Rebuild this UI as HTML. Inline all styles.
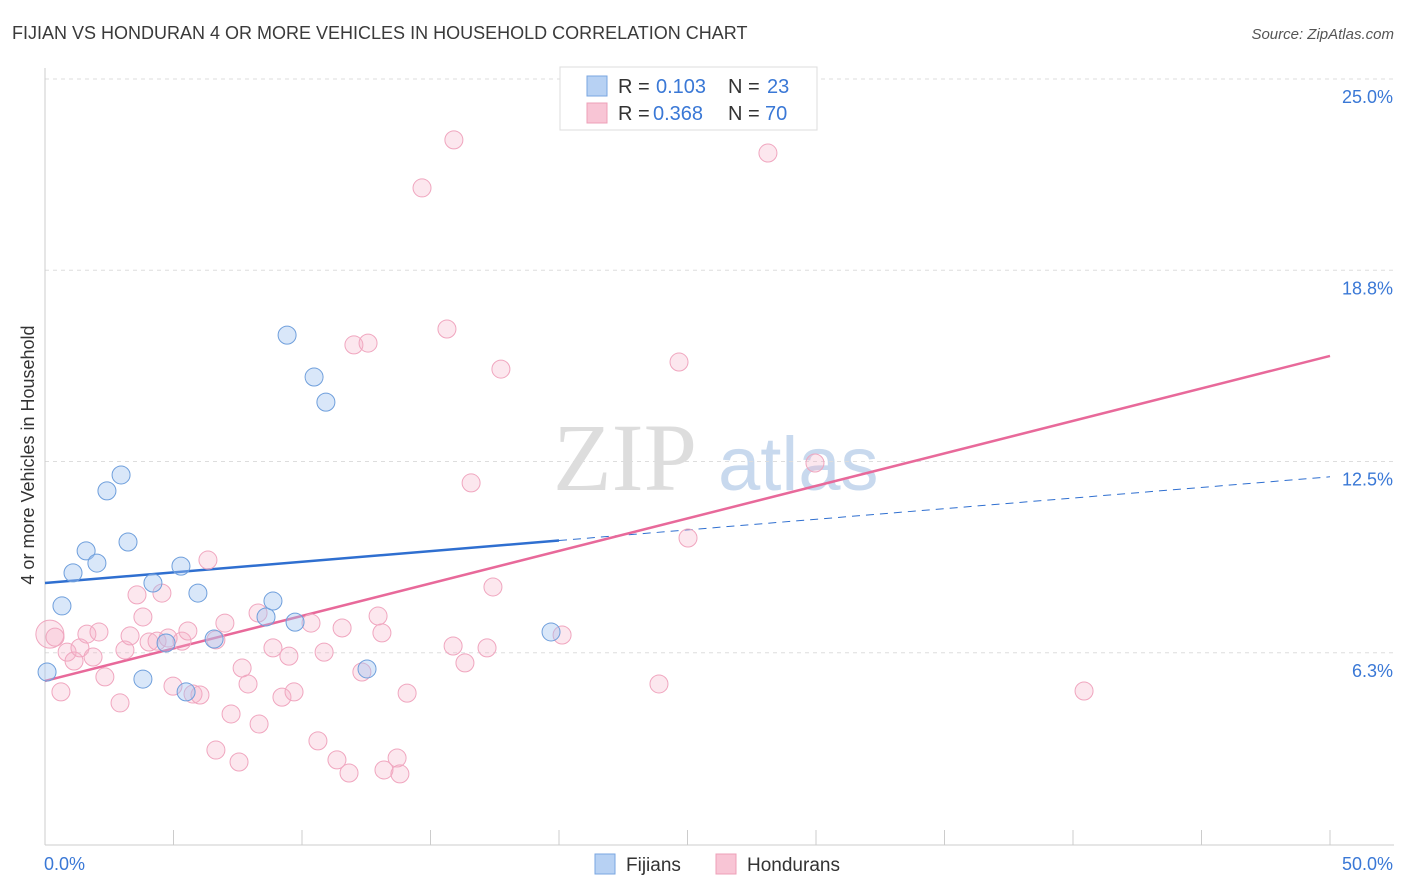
<!DOCTYPE html>
<html><head><meta charset="utf-8">
<style>
body{margin:0;background:#fff;font-family:"Liberation Sans",sans-serif;}
#wrap{position:relative;width:1406px;height:892px;overflow:hidden;}
</style></head>
<body>
<div id="wrap">
<svg id="chart" width="1406" height="892" xmlns="http://www.w3.org/2000/svg">
<text x="12" y="39" font-size="18" fill="#3a3a3a">FIJIAN VS HONDURAN 4 OR MORE VEHICLES IN HOUSEHOLD CORRELATION CHART</text>
<text x="1394" y="39" font-size="15" fill="#555" font-style="italic" text-anchor="end">Source: ZipAtlas.com</text>
<text x="0" y="0" transform="translate(34,455) rotate(-90)" font-size="18" fill="#333" text-anchor="middle">4 or more Vehicles in Household</text>
<g>
<text x="553" y="490" font-size="96" font-family="Liberation Serif" fill="#ddd">ZIP</text>
<text x="718" y="490" font-size="76" fill="#c8d9ee">atlas</text>
</g>
<g id="grid"></g><g id="axes"></g><g id="lines"></g><g id="points"></g>
<g>
<rect x="560" y="67" width="257" height="63" fill="#fff" stroke="#ddd"/>
<rect x="587" y="76" width="20" height="20" fill="#b7d1f3" stroke="#7aa6e0"/>
<rect x="587" y="103" width="20" height="20" fill="#f8c5d5" stroke="#eea0b8"/>
<g font-size="20" fill="#333">
<text x="618" y="93">R =</text>
<text x="656" y="93" fill="#3a78d6">0.103</text>
<text x="728" y="93">N =</text>
<text x="767" y="93" fill="#3a78d6">23</text>
<text x="618" y="120">R =</text>
<text x="653" y="120" fill="#3a78d6">0.368</text>
<text x="728" y="120">N =</text>
<text x="765" y="120" fill="#3a78d6">70</text>
</g>
</g>
<g>
<rect x="595" y="854" width="20" height="20" fill="#b7d1f3" stroke="#7aa6e0"/>
<text x="626" y="871" font-size="19" fill="#333">Fijians</text>
<rect x="716" y="854" width="20" height="20" fill="#f8c5d5" stroke="#eea0b8"/>
<text x="747" y="871" font-size="19" fill="#333">Hondurans</text>
</g>
</svg>
</div>
<script>
const yTicks=[6.25,12.5,18.75,25];
const yTickLabels=["6.3%","12.5%","18.8%","25.0%"];
const xTicks=[0,5,10,15,20,25,30,35,40,45,50];
const fijX=[0.08,0.66,1.09,1.60,2.02,2.41,2.96,3.23,3.81,4.20,5.29,5.49,5.95,6.58,8.60,8.87,9.42,9.73,10.47,10.93,12.53,19.69,4.71];
const fijY=[5.62,7.78,8.86,9.58,9.18,11.54,12.06,9.87,5.39,8.53,9.08,4.97,8.20,6.70,7.42,7.94,16.63,7.25,15.26,14.44,5.72,6.93,6.57];
const honX=[0.19,0.39,0.62,0.86,1.13,1.36,1.63,1.87,2.10,2.33,2.92,3.11,3.31,3.58,3.81,4.05,4.36,4.55,4.79,4.98,5.33,5.56,5.76,6.03,6.34,6.65,6.65,7.00,7.24,7.55,7.67,7.90,8.29,8.33,8.87,9.22,9.49,9.69,10.35,10.62,10.86,11.36,11.56,11.83,12.02,12.57,12.33,12.96,13.11,13.19,13.70,13.81,14.09,14.67,15.64,15.88,15.91,16.34,16.58,17.20,17.43,17.74,20.12,23.89,24.67,25.02,28.13,29.96,40.43];
const honY=[6.86,6.76,4.97,6.27,5.98,6.41,6.86,6.11,6.93,5.46,4.61,6.34,6.80,8.14,7.42,6.60,6.63,8.20,6.73,5.16,6.63,6.96,4.90,4.87,9.28,6.67,3.07,7.22,4.25,2.68,5.75,5.23,7.55,3.92,6.41,4.80,6.14,4.97,7.22,3.37,6.27,2.75,7.06,2.32,16.31,16.37,5.62,7.45,6.90,2.42,2.81,2.29,4.93,21.44,16.83,6.47,23.01,5.92,11.80,6.41,8.40,15.52,6.83,5.23,15.75,10.00,22.58,12.45,5.00];
const fijTrend=[8.53,12.0];
const honTrend=[5.33,15.95];

const NS="http://www.w3.org/2000/svg";
const X=v=>45+v*25.7;
const Y=v=>79+(25-v)*30.6;
function mk(tag,attrs,parent){const e=document.createElementNS(NS,tag);for(const k in attrs)e.setAttribute(k,attrs[k]);document.getElementById(parent).appendChild(e);return e;}

yTicks.forEach((t,i)=>{
 const g=mk('line',{x1:45,x2:1394,y1:Y(t),y2:Y(t),stroke:'#ddd','stroke-dasharray':'4,4'},'grid');
 
 
 const l=mk('text',{x:1393,y:Y(t)+24,'font-size':18,fill:'#3a78d6','text-anchor':'end'},'axes');
 l.textContent=yTickLabels[i];
 
 
});
const ya=mk('line',{x1:45,x2:45,y1:68,y2:845,stroke:'#ccc'},'axes');


const xa=mk('line',{x1:45,x2:1394,y1:845,y2:845,stroke:'#ccc'},'axes');


xTicks.forEach(t=>{
 const k=mk('line',{x1:X(t),x2:X(t),y1:830,y2:845,stroke:'#ccc'},'axes');
 
 
});
const x0=mk('text',{x:44,y:870,'font-size':18,fill:'#3a78d6'},'axes');x0.textContent='0.0%';


const x1=mk('text',{x:1393,y:870,'font-size':18,fill:'#3a78d6','text-anchor':'end'},'axes');x1.textContent='50.0%';



honX.forEach((v,i)=>{
 const c=mk('circle',{cx:X(v),cy:Y(honY[i]),r:i===0?14:9,fill:'rgba(246,176,198,0.3)',stroke:'#f0a6bf','stroke-width':1},'points');
 
 
});
fijX.forEach((v,i)=>{
 const c=mk('circle',{cx:X(v),cy:Y(fijY[i]),r:9,fill:'rgba(160,196,240,0.4)',stroke:'#6f9fdc','stroke-width':1},'points');
 
 
});
const fy=x=>fijTrend[0]+(fijTrend[1]-fijTrend[0])*x/50;
const b1=mk('line',{x1:X(0),y1:Y(fy(0)),x2:X(20),y2:Y(fy(20)),stroke:'#2f6fd0','stroke-width':2.5},'lines');


const b2=mk('line',{x1:X(20),y1:Y(fy(20)),x2:X(50),y2:Y(fy(50)),stroke:'#2f6fd0','stroke-width':1,'stroke-dasharray':'8,6'},'lines');


const p1=mk('line',{x1:X(0),y1:Y(honTrend[0]),x2:X(50),y2:Y(honTrend[1]),stroke:'#e8699a','stroke-width':2.5},'lines');


</script>
</body></html>
